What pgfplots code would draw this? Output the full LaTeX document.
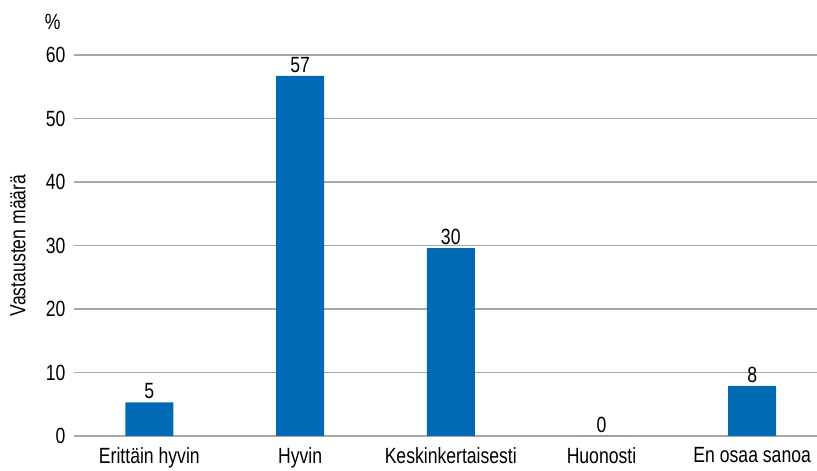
\documentclass[border=0pt]{standalone}
\usepackage{fontspec}
\setmainfont{Liberation Sans}[FakeStretch=0.8]
\usepackage{pgfplots}
\pgfplotsset{compat=1.18}
\definecolor{barblue}{HTML}{006AB4}
\definecolor{gridgray}{HTML}{A6A6A6}
\newcommand{\chartfont}{\fontsize{22}{26}\selectfont}

\begin{document}
\begin{tikzpicture}
    \useasboundingbox (-74pt,-35pt) rectangle (743pt,436pt);
    \begin{axis}[
        name=ax,
        scale only axis,
        width=743pt, height=381pt,
        ybar,
        bar width=48pt,
        xmin=-0.5, xmax=4.43,
        ymin=0, ymax=60,
        ytick={0,10,...,60},
        xtick=data,
        xticklabels={Erittäin hyvin, Hyvin, Keskinkertaisesti, Huonosti, En osaa sanoa},
        axis x line*=bottom,
        axis y line*=left,
        x axis line style={draw=gridgray, line width=1.3pt, -},
        y axis line style={draw=none},
        ymajorgrids,
        grid style={draw=gridgray, line width=1.3pt},
        major tick length=0pt,
        tick label style={font=\chartfont},
        /pgf/number format/assume math mode=true,
        yticklabel style={xshift=-5pt},
        xticklabel style={yshift=-8pt},
        ylabel={Vastausten määrä},
        ylabel style={font=\chartfont, at={(axis description cs:-0.0754,0.5)}, anchor=center},
        nodes near coords={\pgfmathprintnumber[fixed, precision=0]{\pgfplotspointmeta}},
        nodes near coords style={font=\chartfont},
    ]
        \addplot[draw=none, fill=barblue] coordinates {
            (0,5.3)
            (1,56.7)
            (2,29.6)
            (3,0)
            (4,7.9)
        };
    \end{axis}
    \node[anchor=east, font=\chartfont] at (-10pt,414pt) {\%};
\end{tikzpicture}
\end{document}
